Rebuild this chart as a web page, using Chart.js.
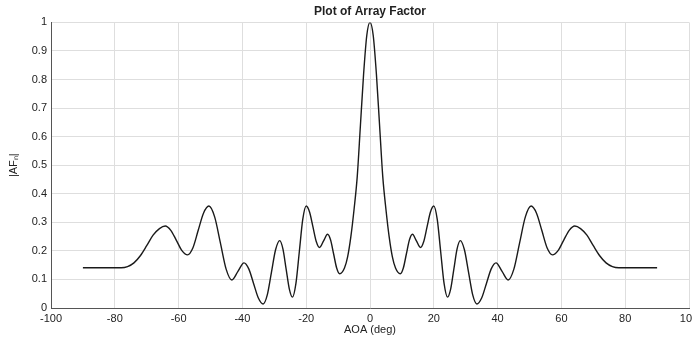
<!DOCTYPE html>
<html>
<head>
<meta charset="utf-8">
<script src="https://cdn.jsdelivr.net/npm/chart.js@4/dist/chart.umd.min.js"></script>
<style>
  html, body { margin: 0; padding: 0; background: #fff; }
  #wrap { width: 692px; height: 339px; position: relative; }
</style>
</head>
<body>
<div id="wrap"><canvas id="afChart"></canvas></div>
<script>
// angle of arrival (deg) and |AF_n|
const aoaDeg = [
  -90, -78, -76, -74, -72, -70, -68, -66, -64.2, -62.45, -60.7, -58.95, -57.2,
  -55.5, -53.85, -52.2, -50.5, -48.7, -46.9, -45.1, -43.3, -41.4, -39.5,
  -38, -36.5, -35, -33.5, -32.2, -30.9, -29.6, -28.3, -27.3, -26.3, -25.3, -24.3,
  -23.23, -22.15, -21.08, -20, -18.95, -17.9, -16.85, -15.8, -14.55, -13.3,
  -12.35, -11.4, -10.45, -9.5, -8, -7, -6, -5, -4, -3, -2, -1, 0,
  1, 2, 3, 4, 5, 6, 7, 8, 9.5, 10.45, 11.4, 12.35, 13.3, 14.55, 15.8,
  16.85, 17.9, 18.95, 20, 21.08, 22.15, 23.23, 24.3, 25.3, 26.3, 27.3, 28.3,
  29.6, 30.9, 32.2, 33.5, 35, 36.5, 38, 39.5, 41.4, 43.3, 45.1, 46.9, 48.7, 50.5,
  52.2, 53.85, 55.5, 57.2, 58.95, 60.7, 62.45, 64.2, 66, 68, 70, 72, 74, 76, 78, 90
];
const afMag = [
  0.141, 0.141, 0.145, 0.158, 0.183, 0.218, 0.255, 0.278, 0.287, 0.272, 0.237, 0.201, 0.186,
  0.211, 0.272, 0.332, 0.357, 0.319, 0.228, 0.136, 0.098, 0.128, 0.158,
  0.137, 0.086, 0.035, 0.014, 0.046, 0.125, 0.204, 0.236, 0.207, 0.137, 0.067, 0.038,
  0.085, 0.198, 0.31, 0.357, 0.336, 0.285, 0.233, 0.212, 0.235, 0.258,
  0.238, 0.189, 0.14, 0.12, 0.14, 0.18, 0.25, 0.345, 0.46, 0.64, 0.82, 0.955, 1.0,
  0.955, 0.82, 0.64, 0.46, 0.345, 0.25, 0.18, 0.14, 0.12, 0.14, 0.189, 0.238, 0.258, 0.235, 0.212,
  0.233, 0.285, 0.336, 0.357, 0.31, 0.198, 0.085, 0.038, 0.067, 0.137, 0.207, 0.236,
  0.204, 0.125, 0.046, 0.014, 0.035, 0.086, 0.137, 0.158, 0.128, 0.098, 0.136, 0.228, 0.319, 0.357,
  0.332, 0.272, 0.211, 0.186, 0.201, 0.237, 0.272, 0.287, 0.278, 0.255, 0.218, 0.183, 0.158, 0.145, 0.141, 0.141
];
const xTicks = [-100, -80, -60, -40, -20, 0, 20, 40, 60, 80, 100];
const yTicks = [0, 0.1, 0.2, 0.3, 0.4, 0.5, 0.6, 0.7, 0.8, 0.9, 1];

const points = aoaDeg.map((a, i) => ({ x: a, y: afMag[i] }));

const gridColor = '#dedede';
const axisColor = '#555';
const textColor = '#222';
const fontFam = 'Arial, Liberation Sans, sans-serif';

new Chart(document.getElementById('afChart'), {
  type: 'line',
  data: {
    datasets: [{
      data: points,
      borderColor: '#1a1a1a',
      borderWidth: 1.4,
      pointRadius: 0,
      fill: false,
      cubicInterpolationMode: 'monotone'
    }]
  },
  options: {
    responsive: true,
    maintainAspectRatio: false,
    animation: false,
    layout: { padding: { left: 0, right: 3, top: 0, bottom: 0 } },
    plugins: {
      legend: { display: false },
      tooltip: { enabled: false },
      title: {
        display: true,
        fullSize: false,
        text: 'Plot of Array Factor',
        color: textColor,
        font: { family: fontFam, size: 12, weight: 'bold' },
        padding: { top: 4, bottom: 4 }
      }
    },
    scales: {
      x: {
        type: 'linear',
        min: -100,
        max: 100,
        afterBuildTicks: (s) => { s.ticks = xTicks.map(v => ({ value: v })); },
        afterFit: (s) => { s.height = 31; s.paddingLeft = 0; s.paddingRight = 0; },
        grid: { color: gridColor, drawTicks: false },
        border: { color: axisColor, width: 1 },
        ticks: {
          color: textColor,
          padding: 4,
          maxRotation: 0,
          font: { family: fontFam, size: 11 }
        },
        title: {
          display: true,
          text: 'AOA (deg)',
          color: textColor,
          font: { family: fontFam, size: 11 },
          padding: { top: 0, bottom: 2 }
        }
      },
      y: {
        min: 0,
        max: 1,
        afterBuildTicks: (s) => { s.ticks = yTicks.map(v => ({ value: v })); },
        afterFit: (s) => { s.width = 51; },
        grid: { color: gridColor, drawTicks: false },
        border: { color: axisColor, width: 1 },
        ticks: {
          color: textColor,
          padding: 4,
          callback: (v) => String(Math.round(v * 10) / 10),
          font: { family: fontFam, size: 11 }
        },
        title: {
          display: true,
          text: '|AFₙ|',
          color: textColor,
          font: { family: fontFam, size: 11 },
          padding: { top: 7, bottom: 4 }
        }
      }
    }
  }
});
</script>
</body>
</html>
